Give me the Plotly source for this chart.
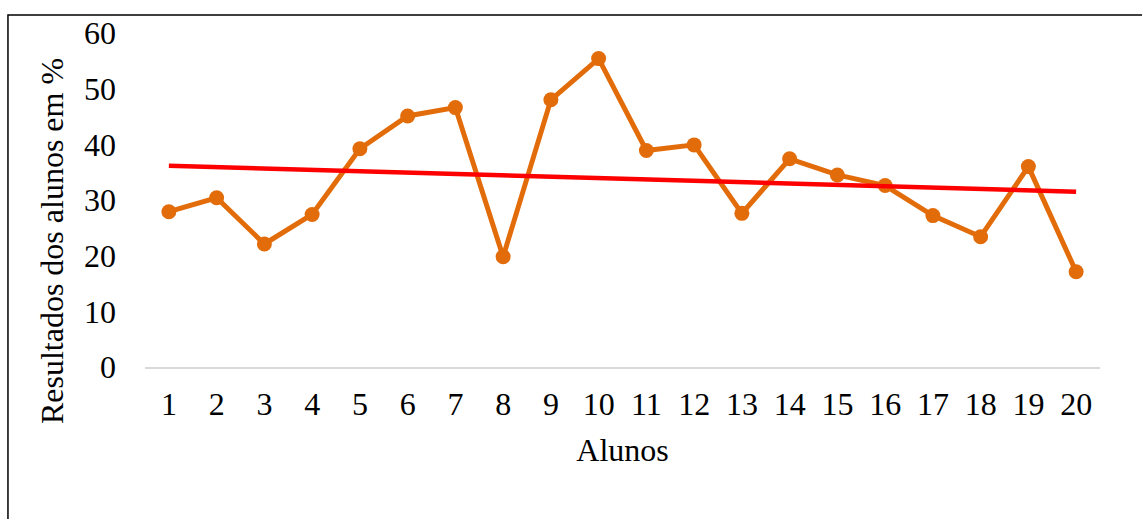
import numpy as np
import plotly.graph_objects as go

alunos = [str(i) for i in range(1, 21)]
resultados = [27.9, 30.4, 22.1, 27.4, 39.2, 45.1, 46.6, 19.8, 48.0, 55.4,
              38.9, 39.9, 27.6, 37.4, 34.5, 32.6, 27.2, 23.4, 36.0, 17.1]
y_ticks = [0, 10, 20, 30, 40, 50, 60]

# linear trendline computed from the data
xi = np.arange(1, len(resultados) + 1)
slope, intercept = np.polyfit(xi, resultados, 1)
trend = list(slope * xi + intercept)

FONT = "Liberation Serif, Times New Roman, serif"
FS = 32

fig = go.Figure()
fig.add_trace(go.Scatter(
    x=alunos, y=resultados, mode="lines+markers",
    line=dict(color="#E36C0A", width=5),
    marker=dict(color="#E36C0A", size=15),
    showlegend=False, hoverinfo="skip",
))
fig.add_trace(go.Scatter(
    x=alunos, y=trend, mode="lines",
    line=dict(color="#FF0000", width=4.5),
    showlegend=False, hoverinfo="skip",
))

fig.update_layout(
    width=1142, height=519,
    margin=dict(l=145, r=42, t=33, b=152),
    paper_bgcolor="white", plot_bgcolor="white",
    font=dict(family=FONT, size=FS, color="black"),
    xaxis=dict(
        type="category", range=[-0.5, len(alunos) - 0.5],
        showgrid=False, zeroline=False,
        showline=True, linecolor="#D9D9D9", linewidth=2,
        ticks="", ticklabelstandoff=8,
        tickfont=dict(size=FS),
        title=dict(text="Alunos", font=dict(size=FS), standoff=17),
    ),
    yaxis=dict(
        range=[0, 60], tickvals=y_ticks, showgrid=False, zeroline=False,
        showline=False, ticks="", ticklabelstandoff=28,
        tickfont=dict(size=FS),
    ),
    annotations=[dict(text="Resultados dos alunos em %", textangle=-90,
                      xref="paper", yref="paper", x=-0.0974, y=0.377,
                      xanchor="center", yanchor="middle", showarrow=False,
                      font=dict(size=FS))],
    shapes=[dict(type="rect", xref="paper", yref="paper",
                 x0=-0.1435, x1=1.2, y0=-0.6, y1=1.054,
                 line=dict(color="black", width=1.5), fillcolor="rgba(0,0,0,0)")],
)

fig.write_html("out.html", config={"displayModeBar": False},
               post_script="document.body.style.margin='0px';")
